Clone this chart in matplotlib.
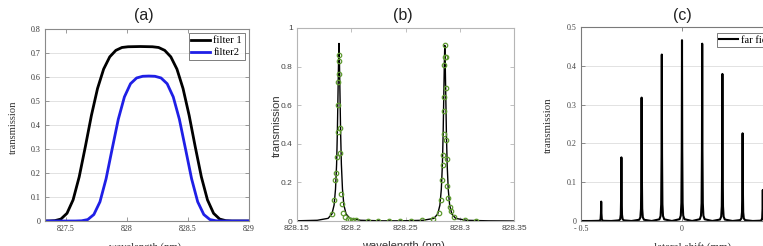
import matplotlib
matplotlib.use('Agg')
import matplotlib.pyplot as plt
import numpy as np
from matplotlib.ticker import FormatStrFormatter, MultipleLocator, FixedLocator

# ---------------- data ----------------
# (a) filter transmissions
a_x1 = [827.35, 827.36, 827.41, 827.46, 827.51, 827.56, 827.61, 827.66, 827.71, 827.76,
        827.81, 827.86, 827.91, 827.96, 828.01, 828.11, 828.21, 828.26, 828.31, 828.36,
        828.41, 828.46, 828.51, 828.56, 828.61, 828.66, 828.71, 828.76, 828.81, 828.86,
        829.00]
a_y1 = [0.0, 0.0, 0.0014, 0.008, 0.032, 0.088, 0.184, 0.309, 0.440, 0.552,
        0.633, 0.684, 0.711, 0.723, 0.726, 0.727, 0.726, 0.723, 0.711, 0.684,
        0.633, 0.552, 0.440, 0.309, 0.184, 0.088, 0.032, 0.008, 0.0014, 0.0,
        0.0]
a_x2 = [827.35, 827.58, 827.63, 827.68, 827.73, 827.78, 827.83, 827.88, 827.93, 827.98,
        828.03, 828.08, 828.13, 828.18, 828.23, 828.28, 828.33, 828.38, 828.43, 828.48,
        828.53, 828.58, 828.63, 828.68, 828.73, 828.78, 829.00]
a_y2 = [0.0, 0.0, 0.0009, 0.006, 0.027, 0.080, 0.176, 0.301, 0.424, 0.517,
        0.572, 0.596, 0.603, 0.604, 0.603, 0.596, 0.572, 0.517, 0.424, 0.301,
        0.176, 0.080, 0.027, 0.006, 0.0009, 0.0, 0.0]
a_labels = ['filter 1', 'filter2']

# (b) resonances: peak centres / heights and line profile
b_peak_x = [828.1887, 828.2862]
b_peak_h = [0.92, 0.91]
b_prof_dx = [-0.040, -0.020, -0.010, -0.0065, -0.0045, -0.0032, -0.0022, -0.0015, -0.0009,
             -0.0004, 0.0, 0.0004, 0.0009, 0.0015, 0.0022, 0.0032, 0.0045, 0.0065, 0.010,
             0.020, 0.040]
b_prof_rel = [0.001, 0.004, 0.015, 0.04, 0.09, 0.18, 0.32, 0.50, 0.72,
              0.90, 1.0, 0.90, 0.72, 0.50, 0.32, 0.18, 0.09, 0.04, 0.015,
              0.004, 0.001]
b_mk_x = [828.1823, 828.1844, 828.1853, 828.1863, 828.1872, 828.1875, 828.1878, 828.1881,
          828.1884, 828.1887, 828.1887, 828.1899, 828.1899, 828.1905, 828.1915, 828.1924,
          828.1945, 828.1966, 828.1991, 828.2015, 828.2046, 828.215, 828.225, 828.235,
          828.245, 828.255, 828.265, 828.2749, 828.2807, 828.2831, 828.2841, 828.2847,
          828.2850, 828.2853, 828.2853, 828.2856, 828.2859, 828.2862, 828.2862, 828.2871,
          828.2874, 828.2877, 828.2880, 828.2883, 828.2896, 828.2908, 828.2923, 828.2945,
          828.3046, 828.3147]
b_mk_y = [0.038, 0.11, 0.21, 0.25, 0.33, 0.46, 0.60, 0.72,
          0.76, 0.83, 0.86, 0.48, 0.35, 0.14, 0.09, 0.04,
          0.02, 0.012, 0.007, 0.004, 0.003, 0.002, 0.002, 0.002,
          0.002, 0.002, 0.003, 0.01, 0.04, 0.11, 0.21, 0.29,
          0.34, 0.45, 0.57, 0.64, 0.81, 0.85, 0.91, 0.85,
          0.69, 0.42, 0.32, 0.18, 0.12, 0.07, 0.05, 0.02,
          0.003, 0.002]

# (c) far-field peaks
c_peak_x = [-0.4, -0.3, -0.2, -0.1, 0.0, 0.1, 0.2, 0.3, 0.4]
c_peak_h = [0.05, 0.164, 0.318, 0.429, 0.466, 0.457, 0.379, 0.226, 0.08]
c_prof_dx = [-0.05, -0.012, -0.006, -0.003, -0.0012, 0.0, 0.0012, 0.003, 0.006, 0.012]
c_prof_rel = [0.0, 0.01, 0.03, 0.10, 0.40, 1.0, 0.40, 0.10, 0.03, 0.01]
c_label = 'far field'

# ---------------- figure ----------------
W, H = 763, 246
fig = plt.figure(figsize=(W / 100, H / 100), dpi=100)

SERIF = ['Liberation Serif', 'DejaVu Serif']
SANS = ['Liberation Sans', 'DejaVu Sans']


def ax_px(l, t, r, b):
    return fig.add_axes([l / W, 1 - b / H, (r - l) / W, (b - t) / H])


def style(ax, spine_col, tick_col, fam, fs):
    for s in ax.spines.values():
        s.set_color(spine_col)
        s.set_linewidth(0.8)
    ax.tick_params(direction='in', top=True, right=True, length=3, width=0.6,
                   color=spine_col, labelcolor=tick_col, labelsize=fs, pad=3)
    for lab in ax.get_xticklabels() + ax.get_yticklabels():
        lab.set_family(fam)


# ---- (a)
axA = ax_px(45, 29, 249, 221)
axA.plot(a_x1, a_y1, color='black', lw=2.0, label=a_labels[0], solid_joinstyle='round')
axA.plot(a_x2, a_y2, color='#1f1fe6', lw=2.0, label=a_labels[1], solid_joinstyle='round')
axA.set_xlim(827.33, 829.0)
axA.set_ylim(0, 0.8)
axA.xaxis.set_major_locator(FixedLocator([827.5, 828, 828.5, 829]))
axA.yaxis.set_major_locator(MultipleLocator(0.1))
axA.xaxis.set_major_formatter(FormatStrFormatter('%g'))
axA.yaxis.set_major_formatter(FormatStrFormatter('%g'))
axA.grid(axis='y', color='#e2e2e2', lw=0.7)
axA.set_axisbelow(True)
style(axA, '#8a8a8a', '#333333', SERIF, 5.8)
legA = axA.legend(loc='upper right', prop={'family': SERIF, 'size': 7.6},
                  handlelength=1.8, handletextpad=0.3, borderpad=0.25,
                  labelspacing=0.25, borderaxespad=0.4, frameon=True, fancybox=False)
legA.get_frame().set_edgecolor('#444444')
legA.get_frame().set_linewidth(0.6)

# ---- (b)
axB = ax_px(297, 28, 514, 221)
bx = [828.15]
by = [0.0]
for p, h in zip(b_peak_x, b_peak_h):
    bx += [p + d for d in b_prof_dx]
    by += [h * r for r in b_prof_rel]
bx += [828.35]
by += [0.0]
axB.plot(bx, by, color='black', lw=1.0)
axB.plot(b_mk_x, b_mk_y, ls='none', marker='o', ms=3.2, mfc='none', mec='#5e9a30', mew=0.9)
axB.set_xlim(828.15, 828.35)
axB.set_ylim(0, 1)
axB.xaxis.set_major_locator(FixedLocator([828.15, 828.2, 828.25, 828.3, 828.35]))
axB.yaxis.set_major_locator(MultipleLocator(0.2))
axB.xaxis.set_major_formatter(FormatStrFormatter('%g'))
axB.yaxis.set_major_formatter(FormatStrFormatter('%g'))
style(axB, '#b5b5b5', '#444444', SANS, 6.0)

# ---- (c)
axC = ax_px(581, 27, 783, 221)
cx = [-0.5]
cy = [0.0]
for p, h in zip(c_peak_x, c_peak_h):
    cx += [p + d for d in c_prof_dx]
    cy += [h * r for r in c_prof_rel]
cx += [0.5]
cy += [0.0]
axC.plot(cx, cy, color='black', lw=1.5, label=c_label)
axC.set_xlim(-0.5, 0.5)
axC.set_ylim(0, 0.5)
axC.xaxis.set_major_locator(FixedLocator([-0.5, 0, 0.5]))
axC.set_xticklabels(['- 0.5', '0', '0.5'])
axC.yaxis.set_major_locator(MultipleLocator(0.1))
axC.yaxis.set_major_formatter(FormatStrFormatter('%g'))
axC.grid(axis='y', color='#e2e2e2', lw=0.7)
axC.set_axisbelow(True)
style(axC, '#7a7a7a', '#444444', SERIF, 5.8)
legC = axC.legend(loc='upper right', prop={'family': SERIF, 'size': 7.6},
                  handlelength=1.8, handletextpad=0.3, borderpad=0.2,
                  borderaxespad=0.6, frameon=True, fancybox=False)
legC.get_frame().set_edgecolor('#444444')
legC.get_frame().set_linewidth(0.6)

# ---- titles and axis labels (placed in pixel coordinates)
def ftxt(x, y, s, **kw):
    fig.text(x / W, 1 - y / H, s, **kw)

for x, s in [(144, '(a)'), (403, '(b)'), (682, '(c)')]:
    ftxt(x, 15.5, s, ha='center', va='center', fontsize=11.5, family=SANS, color='#222222')

ftxt(13, 127, 'transmission', rotation=90, ha='center', va='center', fontsize=7.6,
     family=SERIF, color='#333333')
ftxt(277, 126, 'transmission', rotation=90, ha='center', va='center', fontsize=8,
     family=SANS, color='#333333')
ftxt(548, 125, 'transmission', rotation=90, ha='center', va='center', fontsize=7.8,
     family=SERIF, color='#333333')

ftxt(145, 250, 'wavelength (nm)', ha='center', va='baseline', fontsize=7.6,
     family=SERIF, color='#333333')
ftxt(403, 248.5, 'wavelength (nm)', ha='center', va='baseline', fontsize=8,
     family=SANS, color='#333333')
ftxt(693, 250, 'lateral shift (mm)', ha='center', va='baseline', fontsize=7.8,
     family=SERIF, color='#333333')

fig.savefig('out.png', dpi=100)
